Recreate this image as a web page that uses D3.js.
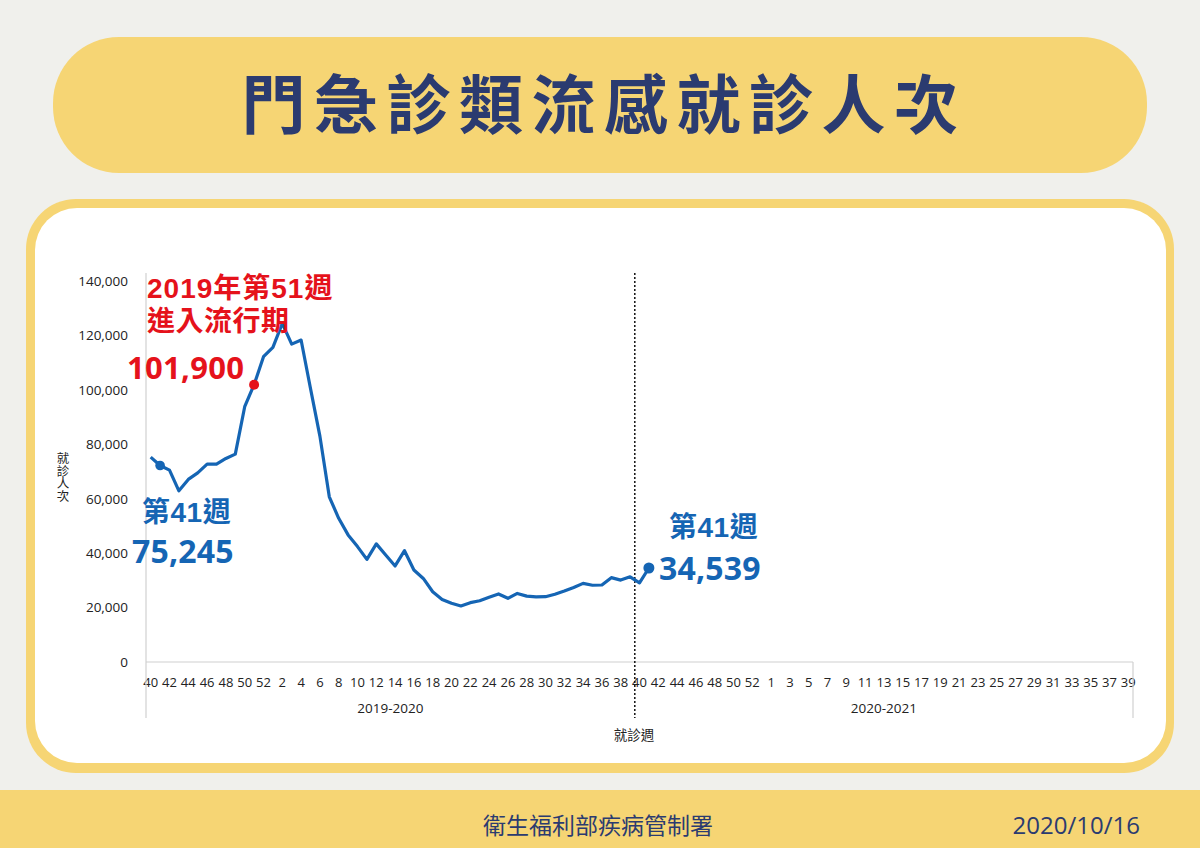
<!DOCTYPE html>
<html><head><meta charset="utf-8">
<script src="https://cdn.jsdelivr.net/npm/d3@7"></script>
<style>
html,body{margin:0;padding:0;background:#f0f0ec;}
svg{display:block;}
</style></head>
<body>
<svg id="c" width="1200" height="848"></svg>
<script>
// ---- data ----
const season1Weeks = [40,41,42,43,44,45,46,47,48,49,50,51,52,1,2,3,4,5,6,7,8,9,10,11,12,13,14,15,16,17,18,19,20,21,22,23,24,25,26,27,28,29,30,31,32,33,34,35,36,37,38,39];
const season2Weeks = [40,41,42,43,44,45,46,47,48,49,50,51,52,53,1,2,3,4,5,6,7,8,9,10,11,12,13,14,15,16,17,18,19,20,21,22,23,24,25,26,27,28,29,30,31,32,33,34,35,36,37,38,39];
const seasonNames = ["2019-2020","2020-2021"];
const visits = [75300,72200,70500,62900,67100,69500,72700,72700,74800,76400,93800,101900,112200,115600,124400,116800,118300,100500,83000,60700,52800,46700,42400,37700,43400,39300,35300,40900,33800,30700,25800,23000,21600,20600,21800,22500,23800,25000,23400,25200,24200,23900,24000,24900,26100,27400,28900,28200,28300,31000,30100,31300,29100,34539];
const yTicks = [0,20000,40000,60000,80000,100000,120000,140000];
const titleText = "門急診類流感就診人次";
const footerOrg = "衛生福利部疾病管制署";
const footerDate = "2020/10/16";

// ---- layout ----
const svg = d3.select("#c");
const navy = "#2b3b70", yellow = "#f6d574", blue = "#1565b4", red = "#e5121b";
const cjk = "'Noto Sans CJK TC','Noto Sans CJK SC',sans-serif";
const lat = "'Open Sans','Noto Sans',sans-serif";
const mix = "'Liberation Sans','Noto Sans CJK TC',sans-serif";

svg.append("rect").attr("width",1200).attr("height",848).attr("fill","#f0f0ec");
svg.append("rect").attr("x",53).attr("y",37).attr("width",1094).attr("height",136).attr("rx",66).attr("fill",yellow);
svg.append("text").attr("x",604).attr("y",128).attr("text-anchor","middle")
  .attr("font-family",cjk).attr("font-weight",700).attr("font-size",64).attr("letter-spacing",8.5)
  .attr("fill",navy).text(titleText);

svg.append("rect").attr("x",26).attr("y",199).attr("width",1148).attr("height",574).attr("rx",50).attr("fill",yellow);
svg.append("rect").attr("x",35).attr("y",208).attr("width",1131).attr("height",555).attr("rx",42).attr("fill","#fff");

svg.append("rect").attr("x",0).attr("y",790).attr("width",1200).attr("height",58).attr("fill",yellow);
svg.append("text").attr("x",598).attr("y",834).attr("text-anchor","middle").attr("font-family",cjk)
  .attr("font-size",23).attr("fill",navy).text(footerOrg);
svg.append("text").attr("x",1140).attr("y",834).attr("text-anchor","end").attr("font-family",lat)
  .attr("font-size",24).attr("fill",navy).text(footerDate);

// ---- chart ----
const cats = season1Weeks.map((w,i)=>"a"+i+"_"+w).concat(season2Weeks.map((w,i)=>"b"+i+"_"+w));
const x = d3.scaleBand().domain(cats).range([146,1133]).paddingInner(0).paddingOuter(0);
const y = d3.scaleLinear().domain([0,140000]).range([662,281]);
const g = svg.append("g");

// y axis
const yAxis = d3.axisLeft(y).tickValues(yTicks).tickSize(0).tickPadding(18).tickFormat(d3.format(","));
const ya = g.append("g").attr("transform","translate(146,0)").call(yAxis);
ya.select(".domain").remove();
ya.selectAll("text").attr("font-family",lat).attr("font-size",13.5).attr("fill","#222");

// x axis (week labels every other)
const xAxis = d3.axisBottom(x).tickSize(0).tickPadding(16)
  .tickValues(cats.filter((c,i)=>{ if(i<52) return i%2===0; const k=i-52; return k<13 ? k%2===0 : (k>=14 && (k-14)%2===0); }))
  .tickFormat(c=>c.split("_")[1]);
const xa = g.append("g").attr("transform","translate(0,662)").call(xAxis);
xa.select(".domain").remove();
xa.selectAll("text").attr("font-family",lat).attr("font-size",13).attr("fill","#222");

g.append("line").attr("x1",146).attr("x2",1133).attr("y1",662).attr("y2",662).attr("stroke","#d0d0d0").attr("stroke-width",1.2);
g.append("line").attr("x1",146).attr("x2",146).attr("y1",273).attr("y2",718).attr("stroke","#d0d0d0").attr("stroke-width",1.2);
g.append("line").attr("x1",x.range()[1]).attr("x2",x.range()[1]).attr("y1",662).attr("y2",718).attr("stroke","#d0d0d0").attr("stroke-width",1.2);
const sep = x(cats[52]);
g.append("line").attr("x1",sep).attr("x2",sep).attr("y1",273).attr("y2",718).attr("stroke","#111").attr("stroke-width",1.5).attr("stroke-dasharray","2,2");

// season labels
[[0,51],[52,104]].forEach((r,i)=>{
  const cx = (x(cats[r[0]]) + x(cats[r[1]]) + x.bandwidth())/2;
  g.append("text").attr("x",cx).attr("y",713).attr("text-anchor","middle").attr("font-family",lat)
    .attr("font-size",13.5).attr("fill","#222").text(seasonNames[i]);
});
g.append("text").attr("x",634).attr("y",740).attr("text-anchor","middle").attr("font-family",cjk)
  .attr("font-size",13.5).attr("fill","#222").text("就診週");
g.append("text").attr("x",63).attr("y",452).attr("font-family",cjk)
  .attr("font-size",12.5).attr("fill","#222").attr("writing-mode","vertical-rl")
  .text("就診人次");

// line
const line = d3.line().x((d,i)=>x(cats[i])+x.bandwidth()/2).y(d=>y(d));
g.append("path").datum(visits).attr("d",line).attr("fill","none").attr("stroke",blue).attr("stroke-width",3.2).attr("stroke-linejoin","round");

// markers
const px = i => x(cats[i])+x.bandwidth()/2;
g.append("circle").attr("cx",px(1)).attr("cy",y(visits[1])).attr("r",4.8).attr("fill",blue);
g.append("circle").attr("cx",px(11)).attr("cy",y(visits[11])).attr("r",5).attr("fill",red);
g.append("circle").attr("cx",px(53)).attr("cy",y(visits[53])).attr("r",5.5).attr("fill",blue);

// annotations
const ann = (t,xx,yy,fs,col,fam,ls)=>g.append("text").attr("x",xx).attr("y",yy).attr("font-family",fam)
  .attr("font-weight",700).attr("font-size",fs).attr("fill",col).attr("letter-spacing",ls||0).text(t);
ann("2019年第51週",147,298,28,red,mix,1);
ann("進入流行期",147,331,28,red,mix,0.5);
ann("101,900",127,379,31,red,lat,0.3);
ann("第41週",142,522,28,blue,mix,0.5);
ann("75,245",132,563,32,blue,lat,0.2);
ann("第41週",669,537,28,blue,mix,0.5);
ann("34,539",659,580,32,blue,lat,0.2);
</script>
</body></html>
